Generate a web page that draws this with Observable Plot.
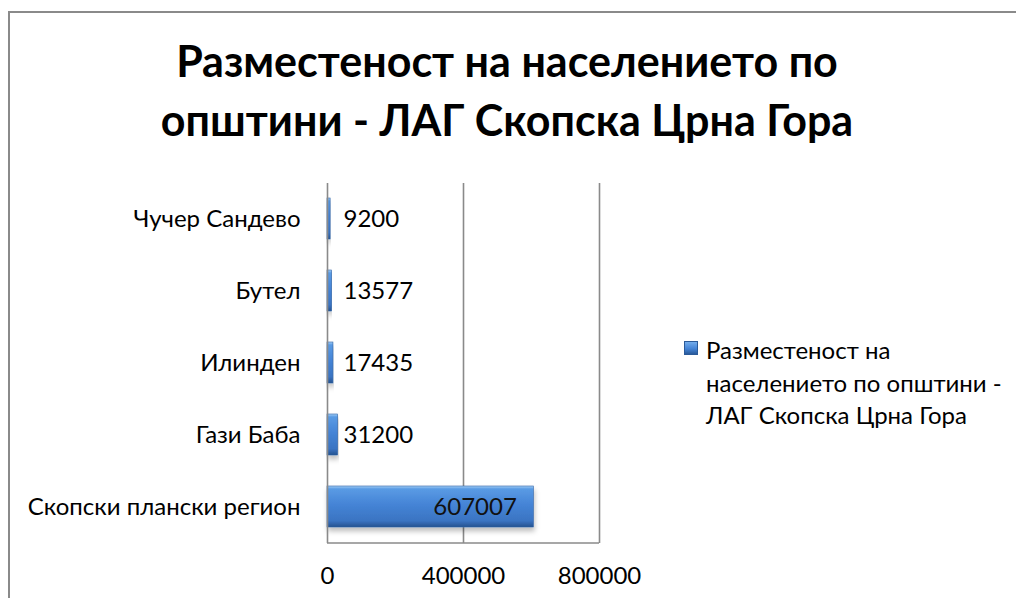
<!DOCTYPE html>
<html>
<head>
<meta charset="utf-8">
<script src="https://cdn.jsdelivr.net/npm/d3@7"></script>
<script src="https://cdn.jsdelivr.net/npm/@observablehq/plot@0.6"></script>
<style>
  html, body { margin: 0; padding: 0; background: #fff; overflow: hidden; }
  #wrap { position: relative; width: 1016px; height: 602px; overflow: hidden; font-family: Lato, "Open Sans", sans-serif; color: #000; }
  #title { position: absolute; left: 0; top: 31px; width: 1014px; text-align: center; font-weight: bold; font-size: 43px; line-height: 59px; }
  #legend { position: absolute; left: 684px; top: 334px; font-size: 24px; line-height: 32.5px; }
  #legend .sw { position: absolute; left: 0; top: 7px; width: 14px; height: 14px; background: linear-gradient(#7ab2ee, #4584d6 55%, #24528f); box-shadow: inset 0 0 0 1px #2b5a99; }
  #legend .txt { position: absolute; left: 22px; top: 0; white-space: nowrap; }
  #chart { position: absolute; left: 0; top: 0; }
</style>
</head>
<body>
<div id="wrap">
  <div id="chart"></div>
  <div id="title"></div>
  <div id="legend"><div class="sw"></div><div class="txt"></div></div>
</div>
<script>
const titleLines = ["Разместеност на населението по", "општини - ЛАГ Скопска Црна Гора"];
const legendLines = ["Разместеност на", "населението по општини -", "ЛАГ Скопска Црна Гора"];
const categories = ["Скопски плански регион", "Гази Баба", "Илинден", "Бутел", "Чучер Сандево"];
const values = [607007, 31200, 17435, 13577, 9200];
const xTicks = [0, 400000, 800000];

const data = categories.map((c, i) => ({category: c, value: values[i]}));

document.getElementById("title").innerHTML = titleLines.join("<br>");
document.querySelector("#legend .txt").innerHTML = legendLines.join("<br>");

const inside = d => d.value > 100000;
const ns = "http://www.w3.org/2000/svg";
function line(x1, y1, x2, y2) {
  const l = document.createElementNS(ns, "line");
  l.setAttribute("x1", x1); l.setAttribute("x2", x2);
  l.setAttribute("y1", y1); l.setAttribute("y2", y2);
  l.setAttribute("stroke", "#8a8a8a");
  l.setAttribute("stroke-width", 1.6);
  return l;
}

const chart = Plot.plot({
  width: 1016,
  height: 602,
  marginLeft: 327,
  marginRight: 417,
  marginTop: 183,
  marginBottom: 59,
  style: {fontFamily: "Lato, 'Open Sans', sans-serif", fontSize: "24px", color: "#000", background: "transparent", overflow: "visible"},
  x: {domain: [0, 800000], ticks: xTicks, tickFormat: d => String(d), tickSize: 0, tickPadding: 23, label: null},
  y: {domain: categories.slice().reverse(), paddingInner: 0.43, paddingOuter: 0.215, tickSize: 0, tickPadding: 27, label: null},
  marks: [
    // outer chart-area border (top and left edges visible in the reference)
    (index, scales, values, dim) => {
      const g = document.createElementNS(ns, "g");
      const t = line(8, 12, dim.width, 12); t.setAttribute("stroke-width", 2);
      const l = line(9, 11, 9, dim.height - 4); l.setAttribute("stroke-width", 2);
      g.appendChild(t); g.appendChild(l);
      return g;
    },
    Plot.ruleX([400000, 800000], {stroke: "#8a8a8a", strokeWidth: 1.6}),
    Plot.barX(data, {y: "category", x: "value", fill: "url(#barGrad)", stroke: "#2f62a6", strokeWidth: 0.6}),
    Plot.ruleX([0], {stroke: "#8a8a8a", strokeWidth: 1.6}),
    (index, scales, values, dim) => line(dim.marginLeft, dim.height - dim.marginBottom, dim.width - dim.marginRight, dim.height - dim.marginBottom),
    Plot.text(data.filter(d => !inside(d)), {y: "category", x: 0, text: d => String(d.value), dx: 16, textAnchor: "start", fill: "#000", fontSize: 24}),
    Plot.text(data.filter(inside), {y: "category", x: "value", text: d => String(d.value), dx: -17, textAnchor: "end", fill: "#111", fontSize: 24})
  ]
});

d3.select(chart).insert("defs", ":first-child").html(`
  <linearGradient id="barGrad" x1="0" y1="0" x2="0" y2="1">
    <stop offset="0" stop-color="#a4cff7"/>
    <stop offset="0.07" stop-color="#5a9be4"/>
    <stop offset="0.45" stop-color="#4584d6"/>
    <stop offset="0.85" stop-color="#3a74c2"/>
    <stop offset="1" stop-color="#24528f"/>
  </linearGradient>
  <filter id="shadow" x="-5%" y="-20%" width="110%" height="160%">
    <feDropShadow dx="1" dy="4" stdDeviation="2.5" flood-color="#000" flood-opacity="0.25"/>
  </filter>
`);
d3.select(chart).selectAll("g[aria-label='bar'] rect").attr("filter", "url(#shadow)");

document.getElementById("chart").appendChild(chart);
</script>
</body>
</html>
